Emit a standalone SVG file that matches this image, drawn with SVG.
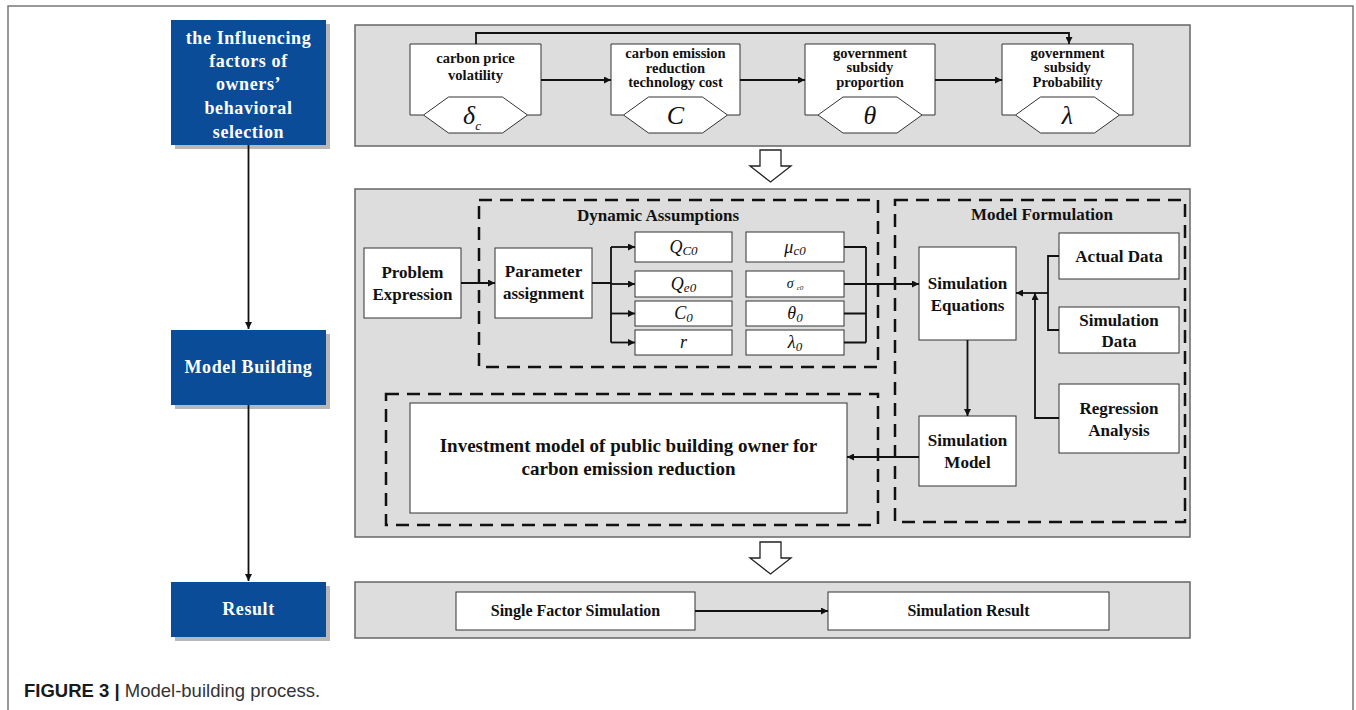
<svg xmlns="http://www.w3.org/2000/svg" width="1356" height="710" viewBox="0 0 1356 710">
  <style>
    .frame { fill: none; stroke: #777; stroke-width: 1.5; }
    .panel { fill: #dddddd; stroke: #666; stroke-width: 1.5; }
    .blue { fill: #0a4c98; }
    .shadow { fill: #b8b8b8; }
    .box { fill: #ffffff; stroke: #333; stroke-width: 1; }
    .dash { fill: none; stroke: #111; stroke-width: 2.5; stroke-dasharray: 13 8; }
    .line { fill: none; stroke: #111; stroke-width: 1.8; }
    .arr { marker-end: url(#ah); }
    .hollow { fill: #ffffff; stroke: #222; stroke-width: 1.3; }
    .wt { font-family: "Liberation Serif", "Times New Roman", serif; font-weight: bold; font-size: 18px; fill: #ffffff; text-anchor: middle; letter-spacing: 0.6px; }
    .bt { font-family: "Liberation Serif", "Times New Roman", serif; font-weight: bold; font-size: 17px; fill: #111; text-anchor: middle; }
    .ft { font-family: "Liberation Serif", "Times New Roman", serif; font-weight: bold; font-size: 14.5px; fill: #111; text-anchor: middle; }
    .mt { font-family: "Liberation Serif", "Times New Roman", serif; font-style: italic; font-size: 18px; fill: #111; text-anchor: middle; }
    .big { font-family: "Liberation Serif", "Times New Roman", serif; font-style: italic; font-size: 26px; fill: #111; text-anchor: middle; }
    .sub { font-size: 13px; }
    .cap { font-family: "Liberation Sans", Arial, sans-serif; font-size: 18.5px; fill: #333; }
  </style>
  <defs>
    <marker id="ah" viewBox="0 0 10 10" refX="10" refY="5" markerWidth="8" markerHeight="7" markerUnits="userSpaceOnUse" orient="auto">
      <path d="M0,0 L10,5 L0,10 z" fill="#111"/>
    </marker>
  </defs>

  <!-- outer figure frame -->
  <path class="frame" d="M8,720 V6 H1353 V720"/>

  <!-- left column: stage boxes -->
  <g id="stage-factors">
    <rect class="shadow" x="175" y="24" width="155" height="125"/>
    <rect class="blue" x="171" y="20" width="155" height="125"/>
    <text class="wt" x="248.5" y="44">the Influencing</text>
    <text class="wt" x="248.5" y="67">factors of</text>
    <text class="wt" x="248.5" y="90">owners’</text>
    <text class="wt" x="248.5" y="114">behavioral</text>
    <text class="wt" x="248.5" y="138">selection</text>
  </g>
  <g id="stage-model">
    <rect class="shadow" x="175" y="334" width="155" height="75"/>
    <rect class="blue" x="171" y="330" width="155" height="75"/>
    <text class="wt" x="248.5" y="373">Model Building</text>
  </g>
  <g id="stage-result">
    <rect class="shadow" x="175" y="586" width="155" height="55"/>
    <rect class="blue" x="171" y="582" width="155" height="55"/>
    <text class="wt" x="248.5" y="615">Result</text>
  </g>

  <!-- background panels -->
  <g id="panel-factors"><rect class="panel" x="355" y="25" width="835" height="121"/></g>
  <g id="panel-model"><rect class="panel" x="355" y="189" width="835" height="348"/></g>
  <g id="panel-result"><rect class="panel" x="355" y="582" width="835" height="56"/></g>

  <!-- dashed groupings -->
  <g id="group-dynamic">
    <rect class="dash" x="479" y="200" width="399" height="167"/>
    <text class="bt" x="658" y="221">Dynamic Assumptions</text>
  </g>
  <g id="group-formulation">
    <rect class="dash" x="895" y="200" width="290" height="322"/>
    <text class="bt" x="1042" y="220">Model Formulation</text>
  </g>
  <g id="group-investment">
    <rect class="dash" x="386" y="394" width="492" height="131"/>
  </g>

  <!-- influencing factors -->
  <g id="factor-carbon-price">
    <polygon class="box" points="410,115 410,44 541,44 541,115 527.5,115 502.5,133 448.5,133 423.5,115"/>
    <polyline class="box" points="423.5,115 448.5,97 502.5,97 527.5,115"/>
    <text class="ft" x="475.5" y="63">carbon price</text>
    <text class="ft" x="475.5" y="80">volatility</text>
    <text class="big" x="472" y="124">δ<tspan class="sub" dy="6">c</tspan></text>
  </g>
  <g id="factor-tech-cost">
    <polygon class="box" points="611,115 611,44 740,44 740,115 727.5,115 702.5,133 648.5,133 623.5,115"/>
    <polyline class="box" points="623.5,115 648.5,97 702.5,97 727.5,115"/>
    <text class="ft" x="675.5" y="58">carbon emission</text>
    <text class="ft" x="675.5" y="73">reduction</text>
    <text class="ft" x="675.5" y="87">technology cost</text>
    <text class="big" x="675.5" y="124">C</text>
  </g>
  <g id="factor-subsidy-proportion">
    <polygon class="box" points="805,115 805,44 935,44 935,115 922,115 897,133 843,133 818,115"/>
    <polyline class="box" points="818,115 843,97 897,97 922,115"/>
    <text class="ft" x="870" y="58">government</text>
    <text class="ft" x="870" y="72">subsidy</text>
    <text class="ft" x="870" y="87">proportion</text>
    <text class="big" x="870" y="124">θ</text>
  </g>
  <g id="factor-subsidy-probability">
    <polygon class="box" points="1002,115 1002,44 1133,44 1133,115 1119.5,115 1094.5,133 1040.5,133 1015.5,115"/>
    <polyline class="box" points="1015.5,115 1040.5,97 1094.5,97 1119.5,115"/>
    <text class="ft" x="1067.5" y="58">government</text>
    <text class="ft" x="1067.5" y="72">subsidy</text>
    <text class="ft" x="1067.5" y="87">Probability</text>
    <text class="big" x="1067.5" y="124">λ</text>
  </g>

  <!-- model building nodes -->
  <g id="problem-expression">
    <rect class="box" x="364" y="248" width="97" height="70"/>
    <text class="bt" x="412.5" y="278">Problem</text>
    <text class="bt" x="412.5" y="300">Expression</text>
  </g>
  <g id="parameter-assignment">
    <rect class="box" x="495" y="248" width="97" height="70"/>
    <text class="bt" x="543.5" y="277">Parameter</text>
    <text class="bt" x="543.5" y="299">assignment</text>
  </g>
  <g id="param-Qc0">
    <rect class="box" x="635" y="232" width="97" height="30"/>
    <text class="mt" x="683.5" y="253">Q<tspan class="sub" dy="2">C0</tspan></text>
  </g>
  <g id="param-Qe0">
    <rect class="box" x="635" y="271" width="97" height="26"/>
    <text class="mt" x="683.5" y="290">Q<tspan class="sub" dy="2">e0</tspan></text>
  </g>
  <g id="param-C0">
    <rect class="box" x="635" y="301" width="97" height="25"/>
    <text class="mt" x="683.5" y="319">C<tspan class="sub" dy="3">0</tspan></text>
  </g>
  <g id="param-r">
    <rect class="box" x="635" y="330" width="97" height="25"/>
    <text class="mt" x="683.5" y="348">r</text>
  </g>
  <g id="param-mu">
    <rect class="box" x="746" y="232" width="98" height="30"/>
    <text class="mt" x="795" y="253">μ<tspan class="sub" dy="2">c0</tspan></text>
  </g>
  <g id="param-sigma">
    <rect class="box" x="746" y="271" width="98" height="26"/>
    <text class="mt" x="795" y="288" style="font-size:14px">σ<tspan style="font-size:7px" dx="3" dy="2">c0</tspan></text>
  </g>
  <g id="param-theta">
    <rect class="box" x="746" y="301" width="98" height="25"/>
    <text class="mt" x="795" y="319">θ<tspan class="sub" dy="3">0</tspan></text>
  </g>
  <g id="param-lambda">
    <rect class="box" x="746" y="330" width="98" height="25"/>
    <text class="mt" x="795" y="348">λ<tspan class="sub" dy="3">0</tspan></text>
  </g>

  <g id="simulation-equations">
    <rect class="box" x="919" y="247" width="97" height="93"/>
    <text class="bt" x="967.5" y="289">Simulation</text>
    <text class="bt" x="967.5" y="311">Equations</text>
  </g>
  <g id="actual-data">
    <rect class="box" x="1059" y="233" width="120" height="46"/>
    <text class="bt" x="1119" y="262">Actual Data</text>
  </g>
  <g id="simulation-data">
    <rect class="box" x="1059" y="307" width="120" height="46"/>
    <text class="bt" x="1119" y="326">Simulation</text>
    <text class="bt" x="1119" y="347">Data</text>
  </g>
  <g id="regression-analysis">
    <rect class="box" x="1059" y="384" width="120" height="69"/>
    <text class="bt" x="1119" y="414">Regression</text>
    <text class="bt" x="1119" y="436">Analysis</text>
  </g>
  <g id="simulation-model">
    <rect class="box" x="919" y="416" width="97" height="70"/>
    <text class="bt" x="967.5" y="446">Simulation</text>
    <text class="bt" x="967.5" y="468">Model</text>
  </g>
  <g id="investment-model">
    <rect class="box" x="410" y="403" width="437" height="110"/>
    <text class="bt" x="628.5" y="452" style="font-size:19px">Investment model of public building owner for</text>
    <text class="bt" x="628.5" y="475" style="font-size:19px">carbon emission reduction</text>
  </g>

  <!-- result nodes -->
  <g id="single-factor-simulation">
    <rect class="box" x="456" y="592" width="239" height="38"/>
    <text class="ft" x="575.5" y="616" style="font-size:16px">Single Factor Simulation</text>
  </g>
  <g id="simulation-result">
    <rect class="box" x="828" y="592" width="281" height="38"/>
    <text class="ft" x="968.5" y="616" style="font-size:16px">Simulation Result</text>
  </g>

  <!-- stage transition arrows -->
  <g id="stage-arrows">
    <polygon class="hollow" points="760,150 781,150 781,166 791,166 770.5,182 750,166 760,166"/>
    <polygon class="hollow" points="760,542 781,542 781,558 791,558 770.5,574 750,558 760,558"/>
  </g>

  <!-- connectors -->
  <g id="connectors">
    <path class="line arr" d="M248.5,145 V329"/>
    <path class="line arr" d="M248.5,405 V581"/>

    <path class="line arr" d="M541,80 H611"/>
    <path class="line arr" d="M740,80 H805"/>
    <path class="line arr" d="M935,80 H1002"/>
    <path class="line arr" d="M476,44 V33 H1069 V44"/>

    <path class="line arr" d="M461,283 H495"/>
    <path class="line" d="M592,283 H611 M611,247 V342.5"/>
    <path class="line arr" d="M611,247 H635"/>
    <path class="line arr" d="M611,284 H635"/>
    <path class="line arr" d="M611,313.5 H635"/>
    <path class="line arr" d="M611,342.5 H635"/>

    <path class="line" d="M844,247 H866 M844,313.5 H866 M844,342.5 H866 M866,247 V342.5"/>
    <path class="line arr" d="M844,284 H919"/>

    <path class="line" d="M1059,256 H1048 V330 H1059"/>
    <path class="line arr" d="M1048,293 H1016"/>
    <path class="line arr" d="M1059,418 H1035 V293"/>

    <path class="line arr" d="M967.5,340 V416"/>
    <path class="line arr" d="M919,457 H847"/>

    <path class="line arr" d="M695,611 H828"/>
  </g>

  <text class="cap" x="24" y="697"><tspan font-weight="bold" fill="#1a1a1a">FIGURE 3 | </tspan>Model-building process.</text>
</svg>
